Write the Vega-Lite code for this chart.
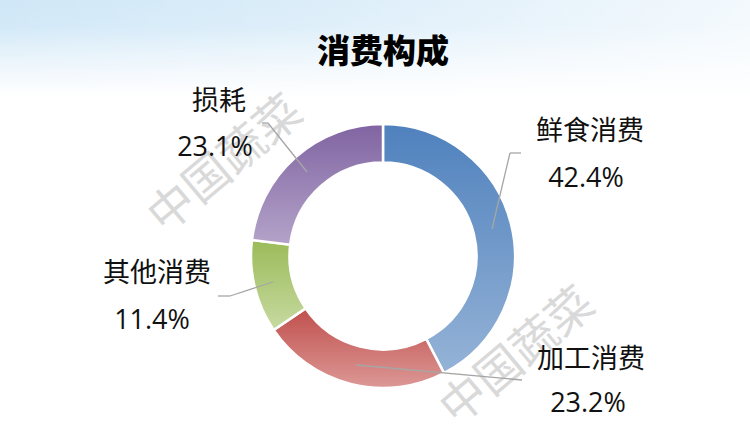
{
  "$schema": "https://vega.github.io/schema/vega-lite/v6.json",
  "width": 750,
  "height": 443,
  "padding": 0,
  "autosize": {"type": "none"},
  "background": "#ffffff",
  "config": {"view": {"stroke": null}},
  "title": {"text": "消费构成", "font": "Noto Sans CJK SC", "fontSize": 33, "fontWeight": 900, "color": "#000000", "anchor": "middle", "offset": -49, "baseline": "middle", "dx": 8, "dy": 37},
  "data": {"values": [
    {"category": "鲜食消费", "value": 0.424},
    {"category": "加工消费", "value": 0.232},
    {"category": "其他消费", "value": 0.114},
    {"category": "损耗", "value": 0.231}
  ]},
  "transform": [{"stack": "value", "groupby": [], "offset": "normalize", "as": ["t0", "t1"]}],
  "layer": [
    {
      "data": {"values": [{}]},
      "mark": {"type": "rect", "fill": {"gradient": "linear", "x1": 0, "y1": 0, "x2": 0, "y2": 1, "stops": [
        {"offset": 0, "color": "#cfe7f7"},
        {"offset": 0.06, "color": "#d3e9f8"},
        {"offset": 0.11, "color": "#e3f1fa"},
        {"offset": 0.17, "color": "#f4f9fd"},
        {"offset": 0.22, "color": "#ffffff"},
        {"offset": 1, "color": "#ffffff"}
      ]}},
      "encoding": {"x": {"value": 0}, "x2": {"value": "width"}, "y": {"value": 0}, "y2": {"value": "height"}}
    },
    {
      "data": {"values": [{}]},
      "mark": {"type": "rect", "fill": {"gradient": "linear", "x1": 0, "y1": 0, "x2": 1, "y2": 0, "stops": [
        {"offset": 0, "color": "rgba(255,255,255,0)"},
        {"offset": 0.4, "color": "rgba(255,255,255,0.25)"},
        {"offset": 1, "color": "rgba(255,255,255,0.75)"}
      ]}},
      "encoding": {"x": {"value": 0}, "x2": {"value": "width"}, "y": {"value": 0}, "y2": {"value": "height"}}
    },
    {
      "data": {"values": [{}]},
      "layer": [
        {
          "mark": {"type": "text", "text": "中国蔬菜", "font": "Noto Sans CJK SC", "fontSize": 46, "color": "#d9d9d9", "angle": -40, "align": "center", "baseline": "middle"},
          "encoding": {
            "x": {"datum": -157, "type": "quantitative", "scale": {"domain": [-383, 367], "nice": false, "zero": false}, "axis": null},
            "y": {"datum": 91, "type": "quantitative", "scale": {"domain": [-187, 256], "nice": false, "zero": false}, "axis": null}
          }
        },
        {
          "mark": {"type": "text", "text": "中国蔬菜", "font": "Noto Sans CJK SC", "fontSize": 46, "color": "#d9d9d9", "angle": -40, "align": "center", "baseline": "middle"},
          "encoding": {
            "x": {"datum": 135, "type": "quantitative", "scale": {"domain": [-383, 367], "nice": false, "zero": false}, "axis": null},
            "y": {"datum": -101, "type": "quantitative", "scale": {"domain": [-187, 256], "nice": false, "zero": false}, "axis": null}
          }
        }
      ]
    },
    {
      "transform": [{"filter": "datum.category === '鲜食消费'"}],
      "layer": [
        {
          "mark": {"type": "arc", "outerRadius": 132, "innerRadius": 93.5, "stroke": "#ffffff", "strokeWidth": 2.5, "fill": {"gradient": "linear", "x1": 0, "y1": 0, "x2": 0, "y2": 1, "stops": [{"offset": 0, "color": "#4f81bd"}, {"offset": 1, "color": "#95b3d7"}]}},
          "encoding": {
            "theta": {"field": "t0", "type": "quantitative", "scale": {"domain": [0, 1]}},
            "theta2": {"field": "t1"},
            "x": {"datum": 0, "type": "quantitative", "scale": {"domain": [-383, 367], "nice": false, "zero": false}, "axis": null},
            "y": {"datum": 0, "type": "quantitative", "scale": {"domain": [-187, 256], "nice": false, "zero": false}, "axis": null}
          }
        },
        {
          "mark": {"type": "rule", "color": "#a6a6a6", "strokeWidth": 1.3},
          "encoding": {
            "x": {"datum": 109, "type": "quantitative", "scale": {"domain": [-383, 367], "nice": false, "zero": false}, "axis": null},
            "y": {"datum": 27, "type": "quantitative", "scale": {"domain": [-187, 256], "nice": false, "zero": false}, "axis": null},
            "x2": {"datum": 127}, "y2": {"datum": 103}
          }
        },
        {
          "mark": {"type": "rule", "color": "#a6a6a6", "strokeWidth": 1.3},
          "encoding": {
            "x": {"datum": 127, "type": "quantitative", "scale": {"domain": [-383, 367], "nice": false, "zero": false}, "axis": null},
            "y": {"datum": 103, "type": "quantitative", "scale": {"domain": [-187, 256], "nice": false, "zero": false}, "axis": null},
            "x2": {"datum": 138}, "y2": {"datum": 103}
          }
        },
        {
          "mark": {"type": "text", "font": "Noto Sans CJK SC", "fontSize": 27, "color": "#111111", "align": "center", "baseline": "middle"},
          "encoding": {
            "text": {"field": "category"},
            "x": {"datum": 207, "type": "quantitative", "scale": {"domain": [-383, 367], "nice": false, "zero": false}, "axis": null},
            "y": {"datum": 124.5, "type": "quantitative", "scale": {"domain": [-187, 256], "nice": false, "zero": false}, "axis": null}
          }
        },
        {
          "mark": {"type": "text", "font": "Open Sans", "fontSize": 27, "color": "#111111", "align": "center", "baseline": "middle"},
          "encoding": {
            "text": {"field": "value", "format": ".1%"},
            "x": {"datum": 203, "type": "quantitative", "scale": {"domain": [-383, 367], "nice": false, "zero": false}, "axis": null},
            "y": {"datum": 77.5, "type": "quantitative", "scale": {"domain": [-187, 256], "nice": false, "zero": false}, "axis": null}
          }
        }
      ]
    },
    {
      "transform": [{"filter": "datum.category === '加工消费'"}],
      "layer": [
        {
          "mark": {"type": "arc", "outerRadius": 132, "innerRadius": 93.5, "stroke": "#ffffff", "strokeWidth": 2.5, "fill": {"gradient": "linear", "x1": 0, "y1": 0, "x2": 0, "y2": 1, "stops": [{"offset": 0, "color": "#c0504d"}, {"offset": 1, "color": "#dc9896"}]}},
          "encoding": {
            "theta": {"field": "t0", "type": "quantitative", "scale": {"domain": [0, 1]}},
            "theta2": {"field": "t1"},
            "x": {"datum": 0, "type": "quantitative", "scale": {"domain": [-383, 367], "nice": false, "zero": false}, "axis": null},
            "y": {"datum": 0, "type": "quantitative", "scale": {"domain": [-187, 256], "nice": false, "zero": false}, "axis": null}
          }
        },
        {
          "mark": {"type": "rule", "color": "#a6a6a6", "strokeWidth": 1.3},
          "encoding": {
            "x": {"datum": -27, "type": "quantitative", "scale": {"domain": [-383, 367], "nice": false, "zero": false}, "axis": null},
            "y": {"datum": -109, "type": "quantitative", "scale": {"domain": [-187, 256], "nice": false, "zero": false}, "axis": null},
            "x2": {"datum": 139}, "y2": {"datum": -124}
          }
        },
        {
          "mark": {"type": "text", "font": "Noto Sans CJK SC", "fontSize": 27, "color": "#111111", "align": "center", "baseline": "middle"},
          "encoding": {
            "text": {"field": "category"},
            "x": {"datum": 208, "type": "quantitative", "scale": {"domain": [-383, 367], "nice": false, "zero": false}, "axis": null},
            "y": {"datum": -104, "type": "quantitative", "scale": {"domain": [-187, 256], "nice": false, "zero": false}, "axis": null}
          }
        },
        {
          "mark": {"type": "text", "font": "Open Sans", "fontSize": 27, "color": "#111111", "align": "center", "baseline": "middle"},
          "encoding": {
            "text": {"field": "value", "format": ".1%"},
            "x": {"datum": 205, "type": "quantitative", "scale": {"domain": [-383, 367], "nice": false, "zero": false}, "axis": null},
            "y": {"datum": -148, "type": "quantitative", "scale": {"domain": [-187, 256], "nice": false, "zero": false}, "axis": null}
          }
        }
      ]
    },
    {
      "transform": [{"filter": "datum.category === '其他消费'"}],
      "layer": [
        {
          "mark": {"type": "arc", "outerRadius": 132, "innerRadius": 93.5, "stroke": "#ffffff", "strokeWidth": 2.5, "fill": {"gradient": "linear", "x1": 0, "y1": 0, "x2": 0, "y2": 1, "stops": [{"offset": 0, "color": "#9bbb59"}, {"offset": 1, "color": "#c7daa1"}]}},
          "encoding": {
            "theta": {"field": "t0", "type": "quantitative", "scale": {"domain": [0, 1]}},
            "theta2": {"field": "t1"},
            "x": {"datum": 0, "type": "quantitative", "scale": {"domain": [-383, 367], "nice": false, "zero": false}, "axis": null},
            "y": {"datum": 0, "type": "quantitative", "scale": {"domain": [-187, 256], "nice": false, "zero": false}, "axis": null}
          }
        },
        {
          "mark": {"type": "rule", "color": "#a6a6a6", "strokeWidth": 1.3},
          "encoding": {
            "x": {"datum": -110, "type": "quantitative", "scale": {"domain": [-383, 367], "nice": false, "zero": false}, "axis": null},
            "y": {"datum": -26, "type": "quantitative", "scale": {"domain": [-187, 256], "nice": false, "zero": false}, "axis": null},
            "x2": {"datum": -153}, "y2": {"datum": -40}
          }
        },
        {
          "mark": {"type": "rule", "color": "#a6a6a6", "strokeWidth": 1.3},
          "encoding": {
            "x": {"datum": -153, "type": "quantitative", "scale": {"domain": [-383, 367], "nice": false, "zero": false}, "axis": null},
            "y": {"datum": -40, "type": "quantitative", "scale": {"domain": [-187, 256], "nice": false, "zero": false}, "axis": null},
            "x2": {"datum": -165}, "y2": {"datum": -40}
          }
        },
        {
          "mark": {"type": "text", "font": "Noto Sans CJK SC", "fontSize": 27, "color": "#111111", "align": "center", "baseline": "middle"},
          "encoding": {
            "text": {"field": "category"},
            "x": {"datum": -226, "type": "quantitative", "scale": {"domain": [-383, 367], "nice": false, "zero": false}, "axis": null},
            "y": {"datum": -18, "type": "quantitative", "scale": {"domain": [-187, 256], "nice": false, "zero": false}, "axis": null}
          }
        },
        {
          "mark": {"type": "text", "font": "Open Sans", "fontSize": 27, "color": "#111111", "align": "center", "baseline": "middle"},
          "encoding": {
            "text": {"field": "value", "format": ".1%"},
            "x": {"datum": -231, "type": "quantitative", "scale": {"domain": [-383, 367], "nice": false, "zero": false}, "axis": null},
            "y": {"datum": -65, "type": "quantitative", "scale": {"domain": [-187, 256], "nice": false, "zero": false}, "axis": null}
          }
        }
      ]
    },
    {
      "transform": [{"filter": "datum.category === '损耗'"}],
      "layer": [
        {
          "mark": {"type": "arc", "outerRadius": 132, "innerRadius": 93.5, "stroke": "#ffffff", "strokeWidth": 2.5, "fill": {"gradient": "linear", "x1": 0, "y1": 0, "x2": 0, "y2": 1, "stops": [{"offset": 0, "color": "#8064a2"}, {"offset": 1, "color": "#b4a3c9"}]}},
          "encoding": {
            "theta": {"field": "t0", "type": "quantitative", "scale": {"domain": [0, 1]}},
            "theta2": {"field": "t1"},
            "x": {"datum": 0, "type": "quantitative", "scale": {"domain": [-383, 367], "nice": false, "zero": false}, "axis": null},
            "y": {"datum": 0, "type": "quantitative", "scale": {"domain": [-187, 256], "nice": false, "zero": false}, "axis": null}
          }
        },
        {
          "mark": {"type": "rule", "color": "#a6a6a6", "strokeWidth": 1.3},
          "encoding": {
            "x": {"datum": -76, "type": "quantitative", "scale": {"domain": [-383, 367], "nice": false, "zero": false}, "axis": null},
            "y": {"datum": 84, "type": "quantitative", "scale": {"domain": [-187, 256], "nice": false, "zero": false}, "axis": null},
            "x2": {"datum": -115}, "y2": {"datum": 133}
          }
        },
        {
          "mark": {"type": "rule", "color": "#a6a6a6", "strokeWidth": 1.3},
          "encoding": {
            "x": {"datum": -115, "type": "quantitative", "scale": {"domain": [-383, 367], "nice": false, "zero": false}, "axis": null},
            "y": {"datum": 133, "type": "quantitative", "scale": {"domain": [-187, 256], "nice": false, "zero": false}, "axis": null},
            "x2": {"datum": -121}, "y2": {"datum": 133}
          }
        },
        {
          "mark": {"type": "text", "font": "Noto Sans CJK SC", "fontSize": 27, "color": "#111111", "align": "center", "baseline": "middle"},
          "encoding": {
            "text": {"field": "category"},
            "x": {"datum": -164, "type": "quantitative", "scale": {"domain": [-383, 367], "nice": false, "zero": false}, "axis": null},
            "y": {"datum": 154, "type": "quantitative", "scale": {"domain": [-187, 256], "nice": false, "zero": false}, "axis": null}
          }
        },
        {
          "mark": {"type": "text", "font": "Open Sans", "fontSize": 27, "color": "#111111", "align": "center", "baseline": "middle"},
          "encoding": {
            "text": {"field": "value", "format": ".1%"},
            "x": {"datum": -168, "type": "quantitative", "scale": {"domain": [-383, 367], "nice": false, "zero": false}, "axis": null},
            "y": {"datum": 108, "type": "quantitative", "scale": {"domain": [-187, 256], "nice": false, "zero": false}, "axis": null}
          }
        }
      ]
    }
  ]
}
